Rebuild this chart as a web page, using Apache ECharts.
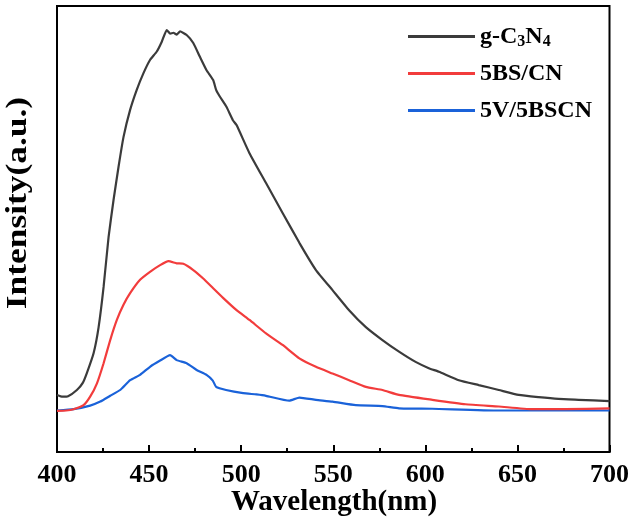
<!DOCTYPE html>
<html>
<head>
<meta charset="utf-8">
<script src="https://cdn.jsdelivr.net/npm/echarts@6/dist/echarts.min.js"></script>
<style>
  html, body { margin: 0; padding: 0; background: #fff; }
  #chart { width: 632px; height: 529px; }
</style>
</head>
<body>
<div id="chart"></div>
<script>
// Photoluminescence spectra, wavelength in nm
const seriesNames = ['g-C3N4', '5BS/CN', '5V/5BSCN'];
const seriesColors = ['#3b3b3b', '#f23c3c', '#1a62d9'];

const gcnWavelength = [400, 403, 406, 410.8, 414, 416.2, 419.9, 422.6, 425.3, 428, 430.7, 433.4, 436.1, 439.7,
  443.3, 446.9, 450.5, 454.2, 456.9, 459.6, 461.5, 463.2, 465, 466.8, 470.4, 474, 477.6, 481.2, 484.8,
  486.4, 488.4, 492, 495.5, 497.5, 504.5, 513.5, 522.5, 531.6, 540.6, 549.6, 558.6, 567.7, 576.7, 585.7,
  594.7, 601.9, 607.4, 618.2, 629, 639.9, 650.7, 661.5, 672.3, 683.2, 700];
const gcnIntensity = [12.8, 12.4, 12.5, 13.9, 15.5, 17.7, 22.2, 28.0, 37.0, 48.2, 56.5, 63.9, 70.6, 76.7,
  81.2, 84.9, 87.9, 89.8, 92.0, 94.6, 93.8, 94.0, 93.6, 94.3, 93.5, 91.7, 88.6, 85.6, 83.4,
  81.2, 79.7, 77.4, 74.4, 73.3, 67.0, 60.3, 53.6, 46.9, 40.8, 36.3, 31.8, 28.0, 25.1, 22.5,
  20.2, 18.8, 18.0, 16.1, 15.0, 13.9, 12.8, 12.3, 11.9, 11.7, 11.4];

const bscnWavelength = [400, 405, 409, 414.4, 418, 421.7, 425.3, 428.9, 432.5, 436.1, 439.7, 445.1, 450.5,
  456, 460.5, 465, 468.6, 474, 479.4, 484.8, 490.3, 497.5, 504.5, 513.5, 522.5, 531.6, 540.6, 549.6,
  558.6, 567.7, 576.7, 585.7, 603.8, 621.8, 639.9, 657.9, 676, 700];
const bscnIntensity = [9.2, 9.3, 9.6, 10.5, 12.4, 15.4, 19.9, 25.1, 29.6, 33.0, 35.6, 38.6, 40.4,
  41.9, 42.8, 42.3, 42.2, 40.8, 38.9, 36.7, 34.5, 31.8, 29.6, 26.6, 24.0, 21.0, 19.1, 17.6,
  16.1, 14.6, 13.9, 12.8, 11.7, 10.7, 10.2, 9.6, 9.6, 9.8];

const vbscnWavelength = [400, 409, 418, 423.5, 428.9, 434.3, 439.7, 445.1, 450.5, 456, 461.4, 465, 470.4,
  475.8, 481.2, 484.6, 486.4, 491.8, 501.1, 508.3, 513.5, 526.1, 531.6, 540.6, 549.6, 562.2, 576.7,
  585.7, 603.8, 640, 700];
const vbscnIntensity = [9.3, 9.6, 10.4, 11.3, 12.6, 13.9, 16.1, 17.3, 19.1, 20.5, 21.7, 20.6, 19.9,
  18.4, 17.3, 16.0, 14.6, 13.9, 13.2, 12.9, 12.6, 11.5, 12.2, 11.7, 11.3, 10.5, 10.3,
  9.8, 9.7, 9.3, 9.3];

const xTicks = [400, 450, 500, 550, 600, 650, 700];

const FONT = '"Liberation Serif", "Times New Roman", serif';

function pairs(xs, ys) { return xs.map((x, i) => [x, ys[i]]); }

const spectra = [
  pairs(gcnWavelength, gcnIntensity),
  pairs(bscnWavelength, bscnIntensity),
  pairs(vbscnWavelength, vbscnIntensity)
];

const chart = echarts.init(document.getElementById('chart'), null, { renderer: 'canvas' });

chart.setOption({
  animation: false,
  backgroundColor: '#fff',
  grid: {
    left: 57, right: 21, top: 6, bottom: 77,
    show: true, borderColor: '#000', borderWidth: 2, backgroundColor: 'transparent'
  },
  legend: {
    orient: 'vertical',
    left: 408, top: 23, padding: 0,
    itemWidth: 67, itemHeight: 3, itemGap: 10,
    icon: 'rect',
    data: seriesNames,
    textStyle: {
      fontFamily: FONT, fontWeight: 'bold', fontSize: 24, color: '#000', lineHeight: 27,
      rich: {
        m: { fontFamily: FONT, fontWeight: 'bold', fontSize: 24, color: '#000', lineHeight: 27 },
        s: { fontFamily: FONT, fontWeight: 'bold', fontSize: 16, color: '#000', padding: [11, 0, 0, 0] }
      }
    },
    formatter: function (name) {
      if (name === 'g-C3N4') return '{m|g-C}{s|3}{m|N}{s|4}';
      return '{m|' + name + '}';
    }
  },
  xAxis: {
    type: 'value',
    min: xTicks[0], max: xTicks[xTicks.length - 1], interval: 50,
    axisLine: { show: true, lineStyle: { color: '#000', width: 2 } },
    axisTick: { show: true, inside: true, length: 7, lineStyle: { color: '#000', width: 2 } },
    minorTick: { show: true, splitNumber: 2, length: 4, lineStyle: { color: '#000', width: 2 } },
    splitLine: { show: false },
    axisLabel: { fontFamily: FONT, fontWeight: 'bold', fontSize: 26, color: '#000', margin: 10 }
  },
  yAxis: {
    type: 'value',
    min: 0, max: 100,
    axisLine: { show: true, lineStyle: { color: '#000', width: 2 } },
    axisTick: { show: false },
    axisLabel: { show: false },
    splitLine: { show: false }
  },
  graphic: [
    {
      type: 'text', x: 334, y: 503,
      style: { text: 'Wavelength(nm)', font: 'bold 29px ' + FONT, fill: '#000', align: 'center', verticalAlign: 'middle' }
    },
    {
      type: 'text', x: 19, y: 203, rotation: Math.PI / 2, scaleX: 1.22,
      style: { text: 'Intensity(a.u.)', font: 'bold 29px ' + FONT, fill: '#000', align: 'center', verticalAlign: 'middle' }
    }
  ],
  series: seriesNames.map((name, i) => ({
    name: name,
    type: 'line',
    data: spectra[i],
    showSymbol: false,
    symbol: 'none',
    smooth: 0.15,
    color: seriesColors[i],
    lineStyle: { color: seriesColors[i], width: 2.2 },
    z: 3 - i
  }))
});
</script>
</body>
</html>
